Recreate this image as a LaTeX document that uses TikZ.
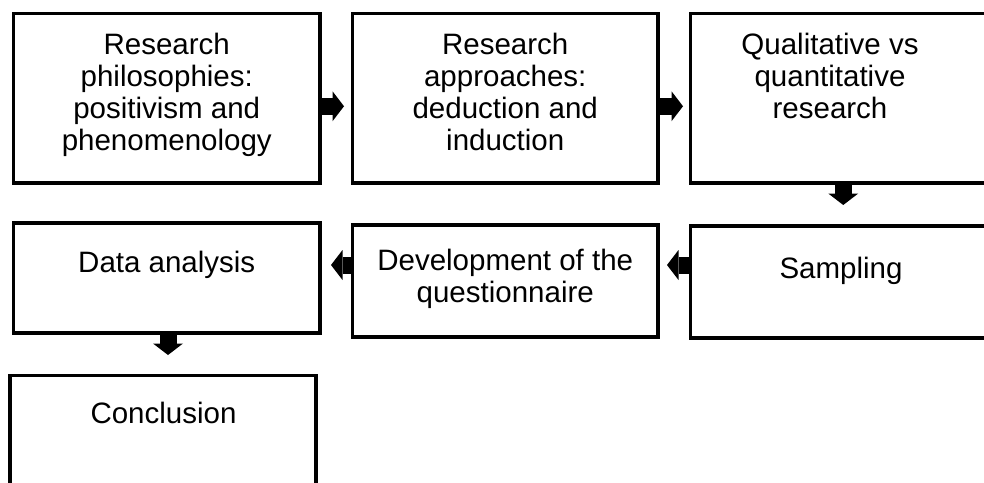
\documentclass[tikz,border=0pt]{standalone}
\usepackage{fontspec}
\setmainfont{Liberation Sans}
\usetikzlibrary{arrows.meta}
\begin{document}
\begin{tikzpicture}[x=1pt,y=-1pt,
  stage/.style={draw, line width=3.5pt, rectangle, inner sep=0pt, outer sep=0pt},
  stagetext/.style={inner sep=0pt, align=center, anchor=north,
    font=\fontsize{29.5}{32.3}\selectfont},
  flow/.style={line width=17pt,
    -{Triangle[length=11.5pt,width=30pt,line width=0pt]}}
]
\useasboundingbox (0,0) rectangle (984,482);
\clip (0,0) rectangle (984,482);

% stage boxes
\node[stage, minimum width=306.5pt, minimum height=169.5pt] (b1) at (166.75,98.25) {};
\node[stage, minimum width=305.5pt, minimum height=169.5pt] (b2) at (505.25,98.25) {};
\node[stage, minimum width=309.5pt, minimum height=169.5pt] (b3) at (845.25,98.25) {};
\node[stage, minimum width=306.5pt, minimum height=110pt] (b4) at (166.75,278) {};
\node[stage, minimum width=305.5pt, minimum height=112pt] (b5) at (505.25,281) {};
\node[stage, minimum width=309.5pt, minimum height=112pt] (b6) at (845.25,282) {};
\node[stage, minimum width=306pt, minimum height=144.5pt] (b7) at (163,447.75) {};

% stage texts
\node[stagetext] (t1) at (166.75,32.5) {Research\\philosophies:\\positivism and\\phenomenology};
\node[stagetext] (t2) at (505.25,32.5) {Research\\approaches:\\deduction and\\induction};
\node[stagetext] (t3) at (830,32.5) {Qualitative vs\\quantitative\\research};
\node[stagetext] (t4) at (166.75,250.5) {Data analysis};
\node[stagetext] (t5) at (505.25,248.5) {Development of the\\questionnaire};
\node[stagetext] (t6) at (841,256.5) {Sampling};
\node[stagetext] (t7) at (163.5,401.5) {Conclusion};

% flow arrows
\draw[flow, shorten >=8.5pt] ([yshift=-8pt]b1.east) -- ([yshift=-8pt]b1.east -| b2.west);
\draw[flow, shorten >=7.5pt] ([yshift=-8pt]b2.east) -- ([yshift=-8pt]b2.east -| b3.west);
\draw[flow, shorten >=21pt] ([xshift=-2pt]b3.south) -- ([xshift=-2pt]b3.south |- b6.north);
\draw[flow, shorten >=9pt] ([yshift=17pt]b6.west) -- ([yshift=17pt]b6.west -| b5.east);
\draw[flow, shorten >=11pt] ([yshift=16pt]b5.west) -- ([yshift=16pt]b5.west -| b4.east);
\draw[flow, shorten >=20.5pt] ([xshift=1.25pt]b4.south) -- ([xshift=1.25pt]b4.south |- b7.north);
\end{tikzpicture}
\end{document}
